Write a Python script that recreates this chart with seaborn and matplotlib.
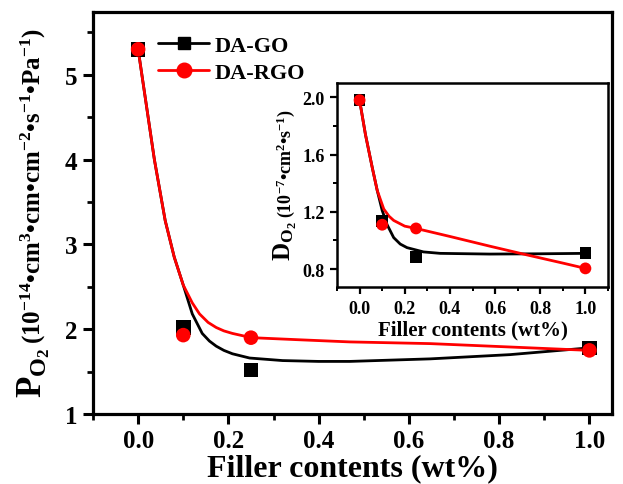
import numpy as np
import pandas as pd
import matplotlib
matplotlib.use("Agg")
import matplotlib.pyplot as plt
from matplotlib.lines import Line2D
from matplotlib.ticker import MultipleLocator, FormatStrFormatter
import seaborn as sns

# ---------------- data ----------------
filler = [0.0, 0.1, 0.25, 1.0]
p_go = [5.30, 2.02, 1.52, 1.78]
p_rgo = [5.30, 1.93, 1.90, 1.75]
d_go = [1.98, 1.135, 0.886, 0.91]
d_rgo = [1.98, 1.11, 1.084, 0.805]

# fitted curves
fit_p_go_x = [0.0, 0.036, 0.06, 0.08, 0.1, 0.12, 0.142, 0.158, 0.173, 0.19, 0.209, 0.247, 0.32, 0.40, 0.469, 0.647, 0.824, 1.0]
fit_p_go_y = [5.30, 4.00, 3.28, 2.85, 2.52, 2.18, 1.95, 1.86, 1.80, 1.75, 1.71, 1.66, 1.63, 1.62, 1.62, 1.65, 1.70, 1.78]
fit_p_rgo_x = [0.0, 0.036, 0.06, 0.08, 0.1, 0.12, 0.136, 0.155, 0.173, 0.19, 0.209, 0.251, 0.358, 0.469, 0.647, 0.824, 1.0]
fit_p_rgo_y = [5.30, 4.00, 3.28, 2.85, 2.52, 2.31, 2.18, 2.08, 2.02, 1.98, 1.95, 1.90, 1.875, 1.85, 1.83, 1.79, 1.75]
fit_d_go_x = [0.0, 0.026, 0.056, 0.078, 0.1, 0.122, 0.151, 0.18, 0.21, 0.283, 0.357, 0.577, 0.8, 1.0]
fit_d_go_y = [1.98, 1.74, 1.51, 1.35, 1.21, 1.11, 1.02, 0.975, 0.95, 0.92, 0.91, 0.905, 0.907, 0.91]
fit_d_rgo_x = [0.0, 0.026, 0.056, 0.078, 0.107, 0.13, 0.151, 0.2, 0.25, 0.4, 0.577, 0.739, 0.9, 1.0]
fit_d_rgo_y = [1.98, 1.74, 1.51, 1.35, 1.22, 1.17, 1.14, 1.10, 1.084, 1.028, 0.96, 0.90, 0.842, 0.805]

series_names = ["DA-GO", "DA-RGO"]
colors = {"DA-GO": "#000000", "DA-RGO": "#ff0000"}
markers = {"DA-GO": "s", "DA-RGO": "o"}

pts = pd.DataFrame({
    "x": filler * 2,
    "P": p_go + p_rgo,
    "D": d_go + d_rgo,
    "s": ["DA-GO"] * 4 + ["DA-RGO"] * 4,
})
fit_p = pd.DataFrame({
    "x": fit_p_go_x + fit_p_rgo_x,
    "y": fit_p_go_y + fit_p_rgo_y,
    "s": ["DA-GO"] * len(fit_p_go_x) + ["DA-RGO"] * len(fit_p_rgo_x),
})
fit_d = pd.DataFrame({
    "x": fit_d_go_x + fit_d_rgo_x,
    "y": fit_d_go_y + fit_d_rgo_y,
    "s": ["DA-GO"] * len(fit_d_go_x) + ["DA-RGO"] * len(fit_d_rgo_x),
})

# ---------------- style ----------------
sns.set_style("ticks", {"axes.edgecolor": "black", "xtick.color": "black", "ytick.color": "black",
                        "text.color": "black", "axes.labelcolor": "black"})
plt.rcParams["font.family"] = ["Liberation Serif", "DejaVu Serif"]
plt.rcParams["font.weight"] = "bold"
plt.rcParams["mathtext.fontset"] = "custom"
plt.rcParams["mathtext.rm"] = "Liberation Serif:bold"
plt.rcParams["mathtext.it"] = "Liberation Serif:bold:italic"
plt.rcParams["mathtext.bf"] = "Liberation Serif:bold"

fig = plt.figure(figsize=(6.23, 4.85), dpi=100)
W, H = 623, 485

def fx(px):
    return px / W

def fy(py):
    return 1 - py / H

ax = fig.add_axes([fx(93), fy(415), fx(612) - fx(93), fy(13) - fy(415)])

def draw(axis, fit, ycol, ms, lw):
    sns.lineplot(data=fit, x="x", y="y", hue="s", hue_order=series_names,
                 palette=colors, sort=False, estimator=None, legend=False,
                 linewidth=lw, ax=axis)
    for name in series_names:
        sub = pts[pts["s"] == name]
        sns.scatterplot(data=sub, x="x", y=ycol, color=colors[name],
                        marker=markers[name], s=ms ** 2, edgecolor="none",
                        legend=False, ax=axis, zorder=5)

def style_axis(axis, lw, maj_len, min_len, tw, labelsize):
    axis.tick_params(which="major", direction="out", length=maj_len, width=tw,
                     labelsize=labelsize, pad=4, colors="black")
    axis.tick_params(which="minor", direction="out", length=min_len, width=tw * 0.9, colors="black")
    axis.tick_params(top=False, right=False)
    for sp in axis.spines.values():
        sp.set_linewidth(lw)
        sp.set_color("black")

draw(ax, fit_p, "P", 10.5, 2.0)
ax.set_xlim(-0.1, 1.05)
ax.set_ylim(1.0, 5.74)
ax.xaxis.set_major_locator(MultipleLocator(0.2))
ax.xaxis.set_minor_locator(MultipleLocator(0.1))
ax.yaxis.set_major_locator(MultipleLocator(1))
ax.yaxis.set_minor_locator(MultipleLocator(0.5))
ax.xaxis.set_major_formatter(FormatStrFormatter("%.1f"))
ax.yaxis.set_major_formatter(FormatStrFormatter("%d"))
style_axis(ax, 2.3, 7, 4, 2.2, 18)
ax.set_xlabel("Filler contents (wt%)", fontsize=23, fontweight="bold", labelpad=1)
ax.set_ylabel("")

# legend
handles = [Line2D([0], [0], color=colors[n], marker=markers[n], markersize=9 if n == "DA-GO" else 10.5,
                  linewidth=2.0) for n in series_names]
leg = ax.legend(handles, series_names, loc="upper left", bbox_to_anchor=(0.1, 0.975),
                frameon=False, fontsize=16, handlelength=2.3, handletextpad=0.25,
                labelspacing=0.3, borderaxespad=0.2)

# main y label (two parts)
fig.canvas.draw()
t1 = fig.text(fx(41), fy(398), r"P$_{\mathregular{O_2}}$", rotation=90, rotation_mode="anchor",
              ha="left", va="baseline", fontsize=25, fontweight="bold")
fig.canvas.draw()
bb = t1.get_window_extent()
t2 = fig.text(fx(41), (bb.y1 + 4) / fig.bbox.height,
              r"(10$^{\mathregular{-14}}$•cm$^{\mathregular{3}}$•cm•cm$^{\mathregular{-2}}$•s$^{\mathregular{-1}}$•Pa$^{\mathregular{-1}}$)",
              rotation=90, rotation_mode="anchor", ha="left", va="baseline",
              fontsize=18, fontweight="bold")

# ---------------- inset ----------------
axi = fig.add_axes([fx(337), fy(288), fx(608) - fx(337), fy(84) - fy(288)])
draw(axi, fit_d, "D", 8.5, 2.0)
axi.set_xlim(-0.1, 1.1)
axi.set_ylim(0.675, 2.1)
axi.xaxis.set_major_locator(MultipleLocator(0.2))
axi.xaxis.set_minor_locator(MultipleLocator(0.1))
axi.yaxis.set_major_locator(MultipleLocator(0.4))
axi.yaxis.set_minor_locator(MultipleLocator(0.2))
axi.xaxis.set_major_formatter(FormatStrFormatter("%.1f"))
axi.yaxis.set_major_formatter(FormatStrFormatter("%.1f"))
style_axis(axi, 1.8, 5, 3, 1.6, 13)
axi.set_xlabel("Filler contents (wt%)", fontsize=15, fontweight="bold", labelpad=2)
axi.set_ylabel("")

fig.canvas.draw()
t3 = fig.text(fx(291), fy(261), r"D$_{\mathregular{O_2}}$", rotation=90, rotation_mode="anchor",
              ha="left", va="baseline", fontsize=18, fontweight="bold")
fig.canvas.draw()
bb3 = t3.get_window_extent()
t4 = fig.text(fx(291), (bb3.y1 + 3) / fig.bbox.height,
              r"(10$^{\mathregular{-7}}$•cm$^{\mathregular{2}}$•s$^{\mathregular{-1}}$)",
              rotation=90, rotation_mode="anchor", ha="left", va="baseline",
              fontsize=13, fontweight="bold")

fig.savefig("out.png", dpi=100)
